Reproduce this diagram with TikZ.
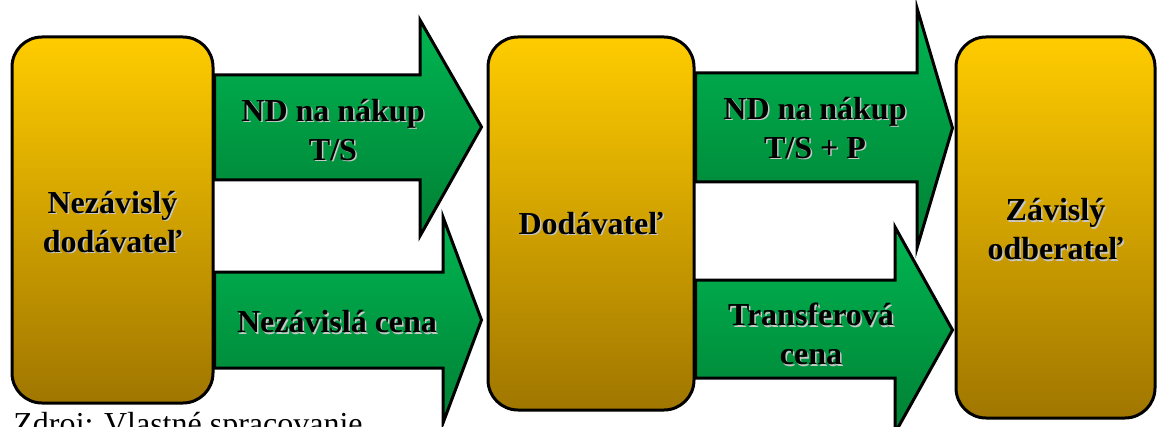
\documentclass[tikz,border=0pt]{standalone}
\usepackage{fontspec}
\setmainfont{Liberation Serif}
\usetikzlibrary{positioning,calc}
\definecolor{boxtop}{RGB}{255,204,0}
\definecolor{boxbot}{RGB}{160,118,0}
\definecolor{flowtop}{RGB}{0,182,82}
\definecolor{flowbot}{RGB}{0,128,52}
\tikzset{
  firm/.style={draw=black, line width=1.5pt, rounded corners=15pt, top color=boxtop, bottom color=boxbot, inner sep=0pt},
  flow/.style={draw=black, line width=1.5pt, line join=miter, top color=flowtop, bottom color=flowbot},
  caption/.style={font=\bfseries\fontsize{16}{19.5}\selectfont, align=center},
}
% text with a soft grey shadow
\newcommand\shlabel[3]{%
  \node[caption, text=black!22] at ($(#2)+(1.5,1.5)$) {#3};
  \node[caption] (#1) at (#2) {#3};}
\begin{document}
\begin{tikzpicture}[x=0.5pt,y=-0.5pt]
  \useasboundingbox (0,0) rectangle (1160,427);
  \clip (0,0) rectangle (1160,427);
  % boxes
  \node[firm, minimum width=100.5pt, minimum height=183pt] (nezavisly) at (112.5,220) {};
  \node[firm, minimum width=103pt, minimum height=186.5pt] (dodavatel) at (591,223.5) {};
  \node[firm, minimum width=99.5pt, minimum height=190.5pt] (zavisly) at (1055.5,227.5) {};
  % flows
  \draw[flow] (nezavisly.east |- 0,75) -- (420,75) -- (420,20)
    -- ($(dodavatel.west |- 0,127)+(-5,0)$) -- (420,236) -- (420,180)
    -- (nezavisly.east |- 0,180) -- cycle;
  \draw[flow] (nezavisly.east |- 0,272) -- (443,272) -- (443,217)
    -- ($(dodavatel.west |- 0,320)+(-5,0)$) -- (443,423) -- (443,368)
    -- (nezavisly.east |- 0,368) -- cycle;
  \draw[flow] (dodavatel.east |- 0,73) -- (917,73) -- (917,8)
    -- ($(zavisly.west |- 0,128)+(-2,0)$) -- (917,248) -- (917,182)
    -- (dodavatel.east |- 0,182) -- cycle;
  \draw[flow] (dodavatel.east |- 0,280) -- (895,280) -- (895,227)
    -- ($(zavisly.west |- 0,330)+(-2,0)$) -- (895,433) -- (895,378)
    -- (dodavatel.east |- 0,378) -- cycle;
  % labels
  \shlabel{t1}{$(nezavisly.center)+(0,2)$}{Nezávislý\\dodávateľ}
  \shlabel{t2}{dodavatel.center}{Dodávateľ}
  \shlabel{t3}{$(zavisly.center)+(0,2)$}{Závislý\\odberateľ}
  \shlabel{nakup1}{333,130}{ND na nákup\\T/S}
  \shlabel{cena1}{337,322}{Nezávislá cena}
  \shlabel{nakup2}{815,128}{ND na nákup\\T/S + P}
  \shlabel{transfer}{811,334}{Transferová\\cena}
  \node[anchor=base west, inner sep=0pt, font=\fontsize{16}{19}\selectfont] (zdroj) at (13,434) {Zdroj: Vlastné spracovanie};
\end{tikzpicture}
\end{document}
